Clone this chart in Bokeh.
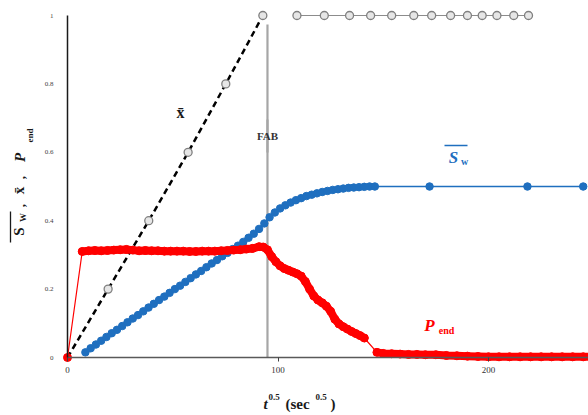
import math
from bokeh.plotting import figure
from bokeh.models import Range1d, LinearAxis, FixedTicker, Label, Arrow
from bokeh.embed import file_html
from bokeh.resources import INLINE

# ---------------- data ----------------
xbar_x = [0, 19.3, 38.6, 57.3, 75.2, 92.8]
xbar_y = [0, 0.2, 0.4, 0.6, 0.8, 1.0]

xbar_after_x = [109, 122, 134, 144, 154, 164.5, 173, 182, 190, 197, 204, 212, 219]
xbar_after_y = [1.0] * 13

sw_x = [8.5, 11, 13.5, 16, 18.5, 21, 23.5, 26, 28.5, 31, 33.5, 36, 38.5, 41, 43.5,
        46, 48.5, 51, 53.5, 56, 58.5, 61, 63.5, 66, 68.5, 71, 73.5, 76, 78.5, 81,
        83.5, 86, 88.5, 91, 93.5, 96, 98.5, 101, 103.5, 106, 108.5, 111, 113.5,
        116, 118.5, 121, 123.5, 126, 128.5, 131, 133.5, 136, 138.5, 141, 143.5,
        146, 172, 218.5, 245]
sw_y = [0.015, 0.027, 0.038, 0.049, 0.06, 0.071, 0.081, 0.092, 0.103, 0.114, 0.124,
        0.135, 0.146, 0.157, 0.168, 0.178, 0.189, 0.2, 0.21, 0.221, 0.232, 0.243,
        0.253, 0.264, 0.275, 0.285, 0.296, 0.306, 0.317, 0.327, 0.338, 0.35, 0.362,
        0.376, 0.392, 0.41, 0.424, 0.436, 0.445, 0.453, 0.46, 0.466, 0.472, 0.476,
        0.48, 0.484, 0.487, 0.49, 0.492, 0.494, 0.496, 0.497, 0.498, 0.499, 0.5,
        0.5, 0.5, 0.5, 0.5]

pend_x = [0, 7, 10, 13, 16, 19, 22, 25, 28, 31, 34, 37, 40, 43, 46, 49, 52, 55, 58,
          61, 64, 67, 70, 73, 76, 79, 82, 85, 88, 91, 93, 95, 97, 99, 101, 103, 105,
          107, 109, 111, 113, 115, 117, 119, 121, 123, 125, 127, 129, 131, 133, 135,
          137, 139, 141, 147, 150, 154, 158, 162, 166, 170, 175, 180, 185, 190, 195,
          200, 205, 210, 215, 220, 225, 230, 235, 240, 245, 250]
pend_y = [0, 0.31, 0.312, 0.313, 0.312, 0.313, 0.314, 0.315, 0.316, 0.314, 0.312,
          0.313, 0.312, 0.312, 0.311, 0.311, 0.311, 0.311, 0.31, 0.31, 0.311, 0.311,
          0.311, 0.312, 0.313, 0.314, 0.315, 0.317, 0.319, 0.324, 0.323, 0.315,
          0.295, 0.28, 0.268, 0.26, 0.255, 0.25, 0.245, 0.238, 0.222, 0.2, 0.18,
          0.168, 0.16, 0.15, 0.135, 0.112, 0.098, 0.09, 0.083, 0.076, 0.07, 0.064,
          0.057, 0.015, 0.012, 0.011, 0.01, 0.009, 0.009, 0.008, 0.008, 0.006, 0.005,
          0.004, 0.003, 0.002, 0.002, 0.002, 0.002, 0.002, 0.002, 0.002, 0.002,
          0.002, 0.002, 0.002]

fab_x = 95
x_ticks = [0, 100, 200]
y_ticks = [0, 0.2, 0.4, 0.6, 0.8, 1.0]
y_tick_labels = ["0", "0.2", "0.4", "0.6", "0.8", "1"]

# ---------------- layout ----------------
W, H = 588, 415
SCALE_X = 2.105      # px per x unit
SCALE_Y = 342.0      # px per y unit
ORIG_PX, ORIG_PY = 67, 357   # canvas position of data origin
x_rng = Range1d(-ORIG_PX / SCALE_X, (W - ORIG_PX) / SCALE_X)
y_rng = Range1d(-(H - ORIG_PY) / SCALE_Y, ORIG_PY / SCALE_Y)


def X(px):
    return (px - ORIG_PX) / SCALE_X


def Y(py):
    return (ORIG_PY - py) / SCALE_Y


p = figure(width=W, height=H, x_range=x_rng, y_range=y_rng,
           output_backend="svg", toolbar_location=None,
           x_axis_location=None, y_axis_location=None,
           min_border=0, min_border_left=0, min_border_right=0,
           min_border_top=0, min_border_bottom=0)
p.outline_line_color = None
p.xgrid.visible = False
p.ygrid.visible = False
p.background_fill_color = "white"
p.border_fill_color = "white"

xaxis = LinearAxis(fixed_location=0, ticker=FixedTicker(ticks=x_ticks),
                   bounds=(0, x_rng.end))
xaxis.axis_line_color = "#595959"
xaxis.axis_line_width = 1.5
xaxis.major_tick_out = 4
xaxis.major_tick_in = 0
xaxis.major_tick_line_color = "#404040"
xaxis.minor_tick_line_color = None
xaxis.major_label_standoff = 5
xaxis.major_label_text_font = "Liberation Serif"
xaxis.major_label_text_font_size = "9px"
xaxis.major_label_text_color = "#333333"
p.add_layout(xaxis, "below")

yaxis = LinearAxis(fixed_location=0, ticker=FixedTicker(ticks=y_ticks), bounds=(0, 1))
yaxis.axis_line_color = "#1a1a1a"
yaxis.axis_line_width = 1.5
yaxis.major_tick_out = 0
yaxis.major_tick_in = 0
yaxis.minor_tick_line_color = None
yaxis.major_label_standoff = 14
yaxis.major_label_text_font = "Liberation Serif"
yaxis.major_label_text_font_size = "7px"
yaxis.major_label_text_color = "#444444"
yaxis.major_label_overrides = {t: s for t, s in zip(y_ticks, y_tick_labels)}
p.add_layout(yaxis, "left")

# FAB vertical line with gap for text
p.segment(x0=[fab_x, fab_x], y0=[0, Y(152)], x1=[fab_x, fab_x], y1=[Y(119), Y(24)],
          line_color="#a6a6a6", line_width=2.2)

# S_w series
p.line(sw_x, sw_y, line_color="#1f6fbf", line_width=1.5)
p.scatter(sw_x, sw_y, size=7.5, marker="circle", fill_color="#1f6fbf",
          line_color="#1f6fbf")

# x-bar series
p.line(xbar_x, xbar_y, line_color="black", line_width=2.5, line_dash="6 4")
p.scatter(xbar_x[1:], xbar_y[1:], size=8, marker="circle", fill_color="#e6e6e6",
          line_color="#7f7f7f", line_width=1.3)
p.line(xbar_after_x, xbar_after_y, line_color="#8c8c8c", line_width=1.2)
p.scatter(xbar_after_x, xbar_after_y, size=8, marker="circle", fill_color="#e6e6e6",
          line_color="#7f7f7f", line_width=1.3)

# P_end series
RED = "#ff0000"
p.line(pend_x, pend_y, line_color=RED, line_width=1.2)
seg1 = [i for i, v in enumerate(pend_x) if 7 <= v <= 141]
seg2 = [i for i, v in enumerate(pend_x) if v >= 147]
for seg in (seg1, seg2):
    p.line([pend_x[i] for i in seg], [pend_y[i] for i in seg], line_color=RED,
           line_width=8, line_join="round", line_cap="round")
thick = [0] + seg1 + seg2
p.scatter([pend_x[i] for i in thick], [pend_y[i] for i in thick], size=8,
          marker="circle", fill_color=RED, line_color=RED)

# ---------------- text ----------------
SERIF = "Liberation Serif"


def lab(text, px, py, size, color="#1a1a1a", style="bold", angle=0.0,
        align="center"):
    p.add_layout(Label(x=X(px), y=Y(py), text=text, text_font=SERIF,
                       text_font_size=f"{size}px", text_font_style=style,
                       text_color=color, angle=angle, text_align=align,
                       text_baseline="middle"))


def bar(px0, py0, px1, py1, color, width=1.3):
    p.add_layout(Arrow(x_start=X(px0), y_start=Y(py0), x_end=X(px1), y_end=Y(py1),
                       start=None, end=None, line_color=color, line_width=width))


# annotation x-bar
lab("x\u0304", 180, 112, 16)
# FAB
lab("FAB", 267, 135, 11, color="#333333")
# blue S_w
lab("S", 453, 157, 17, color="#1f6fbf", style="bold italic")
lab("w", 464, 161, 10, color="#1f6fbf")
bar(444, 145, 467, 145, "#1f6fbf", 1.5)
# red P_end
lab("P", 429, 325, 17, color=RED, style="bold italic")
lab("end", 446, 330, 10, color=RED)

# y-axis title (rotated pieces)
R = math.pi / 2
lab("S", 18, 231, 15, angle=R)
lab("W", 22, 217, 9, angle=R)
bar(10, 242, 10, 211, "#1a1a1a", 1.3)
lab(",", 20, 205, 13, angle=R)
lab("x\u0304", 18, 190, 15, angle=R)
lab(",", 20, 177, 13, angle=R)
lab("P", 19, 157, 15, style="bold italic", angle=R)
lab("end", 29, 135, 9, angle=R)

# x-axis title
lab("t", 263, 403, 15, style="bold italic", align="left")
lab("0.5", 268, 396, 9, align="left")
lab("(sec", 285, 403, 15, align="left")
lab("0.5", 315, 396, 9, align="left")
lab(")", 330, 403, 15, align="left")

open("out.html", "w").write(file_html(p, INLINE))
